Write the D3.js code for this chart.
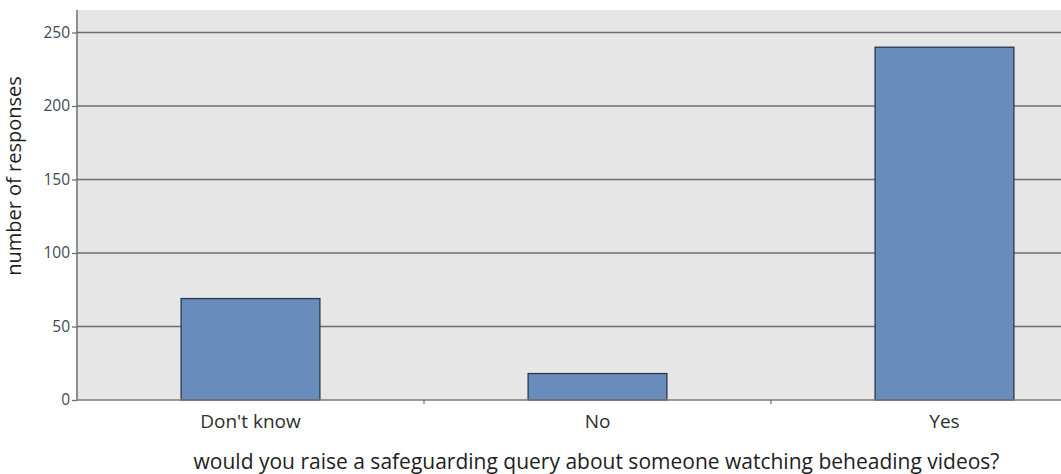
<!DOCTYPE html>
<html><head><meta charset="utf-8">
<script src="https://cdn.jsdelivr.net/npm/d3@7"></script>
<style>body{margin:0;background:#fff}svg{display:block}</style>
</head><body>
<svg id="c" width="1061" height="474"></svg>
<script>
const categories = ["Don't know", "No", "Yes"];
const values = [69, 18, 240];
const yTicks = [0, 50, 100, 150, 200, 250];
const yLabel = "number of responses";
const xLabel = "would you raise a safeguarding query about someone watching beheading videos?";

(function () {
const svg = d3.select("#c");
const mLeft = 77, mTop = 10, mBottom = 400, step = 347;
const font = "Open Sans, sans-serif";
const x = d3.scaleBand().domain(categories).range([mLeft, mLeft + step * 3]).paddingInner(0.6).paddingOuter(0.3);
const y = d3.scaleLinear().domain([0, 250]).range([mBottom, 32.5]);

svg.append("rect").attr("x", mLeft).attr("y", mTop).attr("width", 1061 - mLeft).attr("height", mBottom - mTop).attr("fill", "#e6e6e6");

svg.append("g").selectAll("line").data(yTicks.filter(d => d > 0)).join("line")
  .attr("x1", mLeft).attr("x2", 1061).attr("y1", d => y(d)).attr("y2", d => y(d))
  .attr("stroke", "#6e6e6e").attr("stroke-width", 1.3);

svg.append("g").selectAll("rect").data(values).join("rect")
  .attr("x", (d, i) => x(categories[i])).attr("width", x.bandwidth())
  .attr("y", d => y(d)).attr("height", d => y(0) - y(d))
  .attr("fill", "#688cbc").attr("stroke", "#2b3848").attr("stroke-width", 1.3);

const ya = svg.append("g").attr("transform", `translate(${mLeft},0)`)
  .call(d3.axisLeft(y).tickValues(yTicks).tickSize(5).tickPadding(2));
ya.select(".domain").attr("d", `M0,${mTop}V${mBottom}`).attr("stroke", "#6e6e6e").attr("stroke-width", 1.5);
ya.selectAll(".tick line").attr("stroke", "#6e6e6e").attr("stroke-width", 1.3);
ya.selectAll(".tick text").attr("font-family", font).attr("font-size", 15.5).attr("fill", "#3f4858");

const xa = svg.append("g").attr("transform", `translate(0,${mBottom})`)
  .call(d3.axisBottom(x).tickSize(0).tickPadding(15));
xa.select(".domain").attr("d", `M${mLeft},0H1061`).attr("stroke", "#7a7a7a").attr("stroke-width", 1.5);
xa.selectAll(".tick text").attr("font-family", font).attr("font-size", 19).attr("fill", "#2e2e2e");
svg.append("g").selectAll("line").data(categories.slice(1)).join("line")
  .attr("x1", d => x(d) - x.step() * x.paddingInner() / 2).attr("x2", d => x(d) - x.step() * x.paddingInner() / 2)
  .attr("y1", mBottom).attr("y2", mBottom + 4).attr("stroke", "#555").attr("stroke-width", 1);

svg.append("text").attr("transform", "translate(21,176) rotate(-90)").attr("text-anchor", "middle")
  .attr("font-family", font).attr("font-size", 20).attr("fill", "#1e1e1e").text(yLabel);
svg.append("text").attr("x", 596.5).attr("y", 469).attr("text-anchor", "middle")
  .attr("font-family", font).attr("font-size", 21).attr("fill", "#1e1e1e").text(xLabel);
})();
</script>
</body></html>
